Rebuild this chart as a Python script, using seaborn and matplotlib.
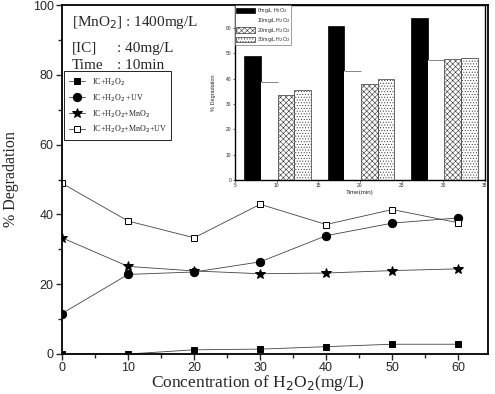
import numpy as np
import matplotlib
matplotlib.use("Agg")
import matplotlib.pyplot as plt
import seaborn as sns

sns.set_theme(style="ticks")
plt.rcParams['font.family'] = ['Liberation Sans', 'DejaVu Sans']
plt.rcParams['hatch.linewidth'] = 0.4

# main chart data
conc = [0, 10, 20, 30, 40, 50, 60]
ic_h2o2 = [0.0, 0.0, 1.2, 1.4, 2.1, 2.8, 2.8]
ic_h2o2_uv = [11.6, 22.8, 23.5, 26.4, 33.9, 37.5, 39.0]
ic_h2o2_mno2 = [33.3, 25.1, 23.8, 23.0, 23.2, 23.9, 24.4]
ic_h2o2_mno2_uv = [48.9, 38.1, 33.3, 42.9, 37.1, 41.4, 37.6]

# inset data
times = [10, 20, 30]
h2o2_0 = [49.0, 60.6, 63.9]
h2o2_10 = [38.7, 43.1, 47.4]
h2o2_20 = [33.6, 37.8, 47.7]
h2o2_30 = [35.3, 40.0, 48.1]

serif = ['Liberation Serif', 'DejaVu Serif']

fig = plt.figure(figsize=(4.95, 3.94), dpi=100)
ax = fig.add_axes([62/495, 1-354/394, 426/495, 349/394])

series = [
    ('IC+H$_2$O$_2$', ic_h2o2, 's', 'black', 5),
    ('IC+H$_2$O$_2$ +UV', ic_h2o2_uv, 'o', 'black', 6),
    ('IC+H$_2$O$_2$+MnO$_2$', ic_h2o2_mno2, '*', 'black', 7),
    ('IC+H$_2$O$_2$+MnO$_2$+UV', ic_h2o2_mno2_uv, 's', 'white', 5),
]
for name, vals, mk, fc, ms in series:
    sns.lineplot(x=conc, y=vals, ax=ax, marker=mk, markersize=ms,
                 markerfacecolor=fc, markeredgecolor='black', markeredgewidth=0.7,
                 color='#444444', linewidth=0.6, label=name)

ax.set_xlim(0, 64.5)
ax.set_ylim(0, 100)
ax.set_xticks(range(0, 61, 10))
ax.set_xticks(range(5, 65, 10), minor=True)
ax.set_yticks(range(0, 101, 20))
ax.set_yticks(range(10, 100, 20), minor=True)
ax.tick_params(which='both', direction='out', width=1, labelsize=9, pad=2)
ax.tick_params(which='major', length=4)
ax.tick_params(which='minor', length=3)
for s in ax.spines.values():
    s.set_linewidth(1.3)
    s.set_color('black')

ax.set_xlabel('Concentration of H$_2$O$_2$(mg/L)', family=serif, fontsize=12.5)
ax.xaxis.set_label_coords(0.46, -0.055)
ax.set_ylabel('% Degradation', family=serif, fontsize=11.5)
ax.yaxis.set_label_coords(-0.1, 0.5)

leg = ax.legend(loc='upper left', bbox_to_anchor=(0.005, 0.81), fontsize=5.8,
                frameon=True, fancybox=False, edgecolor='black', framealpha=1,
                handlelength=2, borderpad=0.6, labelspacing=0.55, borderaxespad=0)
leg.get_frame().set_linewidth(0.6)
for t in leg.get_texts():
    t.set_family(serif)

ax.text(0.023, 0.975, '[MnO$_2$] : 1400mg/L', transform=ax.transAxes, family=serif,
        fontsize=11, va='top')
ax.text(0.023, 0.895, '[IC]', transform=ax.transAxes, family=serif, fontsize=11, va='top')
ax.text(0.13, 0.895, ': 40mg/L', transform=ax.transAxes, family=serif, fontsize=11, va='top')
ax.text(0.023, 0.845, 'Time', transform=ax.transAxes, family=serif, fontsize=11, va='top')
ax.text(0.13, 0.845, ': 10min', transform=ax.transAxes, family=serif, fontsize=11, va='top')

# inset bar chart
ins = fig.add_axes([235/495, 1-180/394, 250/495, 175/394])
ins.set_zorder(5)
ins.set_facecolor('white')
t = np.array(times)
w = 2.0
bar_specs = [
    ('0mg/L H$_2$O$_2$', h2o2_0, -2.9, dict(color='black', edgecolor='black')),
    ('10mg/L H$_2$O$_2$', h2o2_10, -0.9, dict(color='white', edgecolor='none')),
    ('20mg/L H$_2$O$_2$', h2o2_20, 1.1, dict(color='white', edgecolor='#333333', hatch='xxxxxx')),
    ('30mg/L H$_2$O$_2$', h2o2_30, 3.1, dict(color='white', edgecolor='#333333', hatch='......')),
]
for name, vals, off, kw in bar_specs:
    ins.bar(t + off, vals, width=w, linewidth=0.5, label=name, **kw)
    if kw['edgecolor'] == 'none':
        ins.hlines(vals, t + off - w/2, t + off + w/2, color='#555555', linewidth=0.5)

ins.set_xlim(5, 35)
ins.set_ylim(0, 69)
ins.set_xticks(range(5, 36, 5))
ins.set_yticks(range(0, 61, 10))
ins.tick_params(direction='out', length=1.5, width=0.5, labelsize=3.5, pad=1)
for s in ins.spines.values():
    s.set_linewidth(1.0)
    s.set_color('black')
ins.set_xlabel('Time(min)', fontsize=4.5, labelpad=1)
ins.set_ylabel('% Degradation', fontsize=4, labelpad=7)
ileg = ins.legend(loc='upper left', bbox_to_anchor=(0.0, 1.0), fontsize=3.8,
                  frameon=True, fancybox=False, edgecolor='#555555', framealpha=1,
                  handlelength=3.5, handleheight=1.2, borderpad=0.2, labelspacing=0.15,
                  handletextpad=0.4, borderaxespad=0)
ileg.get_frame().set_linewidth(0.4)

fig.savefig('out.png', dpi=100)
